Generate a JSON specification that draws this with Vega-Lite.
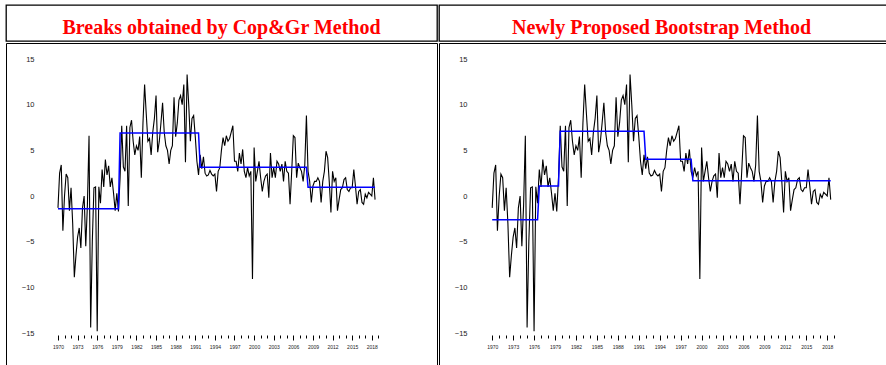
{
  "$schema": "https://vega.github.io/schema/vega-lite/v6.json",
  "padding": {"left": 5, "top": 4, "right": 0, "bottom": 0},
  "background": "white",
  "spacing": 0,
  "config": {"font": "Liberation Sans", "view": {"stroke": null}},
  "datasets": {
    "series": [
      {"t":1970,"v":-1.3},{"t":1970.25,"v":2.5},{"t":1970.5,"v":3.4},{"t":1970.75,"v":-3.8},
      {"t":1971,"v":0},{"t":1971.25,"v":2.4},{"t":1971.5,"v":2.0},{"t":1971.75,"v":-1.6},
      {"t":1972,"v":0.9},{"t":1972.25,"v":-3},{"t":1972.5,"v":-8.9},{"t":1972.75,"v":-6.5},
      {"t":1973,"v":-4.5},{"t":1973.25,"v":-3.5},{"t":1973.5,"v":-5.7},{"t":1973.75,"v":-1.3},
      {"t":1974,"v":0},{"t":1974.25,"v":-5.5},{"t":1974.5,"v":-1},{"t":1974.75,"v":6.6},
      {"t":1975,"v":-14.4},{"t":1975.25,"v":-5},{"t":1975.5,"v":0.9},{"t":1975.75,"v":1},
      {"t":1976,"v":-14.8},{"t":1976.25,"v":1},{"t":1976.5,"v":-0.8},{"t":1976.75,"v":2.9},
      {"t":1977,"v":1},{"t":1977.25,"v":4.0},{"t":1977.5,"v":2.3},{"t":1977.75,"v":3.3},
      {"t":1978,"v":1.0},{"t":1978.25,"v":2.0},{"t":1978.5,"v":0.3},{"t":1978.75,"v":-1.6},
      {"t":1979,"v":0.3},{"t":1979.25,"v":-1.7},{"t":1979.5,"v":2.0},{"t":1979.75,"v":7.7},
      {"t":1980,"v":3.2},{"t":1980.25,"v":2.7},{"t":1980.5,"v":7.7},{"t":1980.75,"v":-1.1},
      {"t":1981,"v":7.5},{"t":1981.25,"v":8.3},{"t":1981.5,"v":6},{"t":1981.75,"v":4.5},
      {"t":1982,"v":5.5},{"t":1982.25,"v":5},{"t":1982.5,"v":6.5},{"t":1982.75,"v":2.0},
      {"t":1983,"v":8},{"t":1983.25,"v":12.2},{"t":1983.5,"v":9},{"t":1983.75,"v":6},
      {"t":1984,"v":6.3},{"t":1984.25,"v":4.5},{"t":1984.5,"v":7},{"t":1984.75,"v":8.5},
      {"t":1985,"v":11.0},{"t":1985.25,"v":4.8},{"t":1985.5,"v":6},{"t":1985.75,"v":8},
      {"t":1986,"v":10.2},{"t":1986.25,"v":7},{"t":1986.5,"v":5.5},{"t":1986.75,"v":5.0},
      {"t":1987,"v":3.5},{"t":1987.25,"v":5},{"t":1987.5,"v":5.5},{"t":1987.75,"v":10.8},
      {"t":1988,"v":6.5},{"t":1988.25,"v":8},{"t":1988.5,"v":10.5},{"t":1988.75,"v":11},
      {"t":1989,"v":10},{"t":1989.25,"v":12.2},{"t":1989.5,"v":3.7},{"t":1989.75,"v":13.3},
      {"t":1990,"v":10},{"t":1990.25,"v":6},{"t":1990.5,"v":8.5},{"t":1990.75,"v":8.8},
      {"t":1991,"v":6.5},{"t":1991.25,"v":3.8},{"t":1991.5,"v":2.3},{"t":1991.75,"v":4.5},
      {"t":1992,"v":3},{"t":1992.25,"v":4.3},{"t":1992.5,"v":2.5},{"t":1992.75,"v":2.2},
      {"t":1993,"v":2.3},{"t":1993.25,"v":2.8},{"t":1993.5,"v":2.4},{"t":1993.75,"v":2.2},
      {"t":1994,"v":2.4},{"t":1994.25,"v":0.5},{"t":1994.5,"v":2.7},{"t":1994.75,"v":3.1},
      {"t":1995,"v":5},{"t":1995.25,"v":6.4},{"t":1995.5,"v":5.5},{"t":1995.75,"v":6.6},
      {"t":1996,"v":6},{"t":1996.25,"v":6.3},{"t":1996.5,"v":7},{"t":1996.75,"v":7.7},
      {"t":1997,"v":3.8},{"t":1997.25,"v":3.8},{"t":1997.5,"v":2.7},{"t":1997.75,"v":4.7},
      {"t":1998,"v":3.5},{"t":1998.25,"v":5.1},{"t":1998.5,"v":2.7},{"t":1998.75,"v":2.0},
      {"t":1999,"v":3.1},{"t":1999.25,"v":2.2},{"t":1999.5,"v":2.7},{"t":1999.75,"v":-9.1},
      {"t":2000,"v":5.3},{"t":2000.25,"v":1.6},{"t":2000.5,"v":2.7},{"t":2000.75,"v":3.8},
      {"t":2001,"v":2.0},{"t":2001.25,"v":0.5},{"t":2001.5,"v":1.6},{"t":2001.75,"v":2.2},
      {"t":2002,"v":2.4},{"t":2002.25,"v":-0.2},{"t":2002.5,"v":4.7},{"t":2002.75,"v":2.0},
      {"t":2003,"v":3.1},{"t":2003.25,"v":2.0},{"t":2003.5,"v":3.8},{"t":2003.75,"v":3.5},
      {"t":2004,"v":2.7},{"t":2004.25,"v":3.5},{"t":2004.5,"v":1.6},{"t":2004.75,"v":3.8},
      {"t":2005,"v":2.7},{"t":2005.25,"v":2.5},{"t":2005.5,"v":-0.9},{"t":2005.75,"v":2.7},
      {"t":2006,"v":6.6},{"t":2006.25,"v":6.4},{"t":2006.5,"v":2.0},{"t":2006.75,"v":3.6},
      {"t":2007,"v":3.1},{"t":2007.25,"v":2.7},{"t":2007.5,"v":1.6},{"t":2007.75,"v":3.4},
      {"t":2008,"v":8.8},{"t":2008.25,"v":2.7},{"t":2008.5,"v":1.6},{"t":2008.75,"v":-0.7},
      {"t":2009,"v":1.1},{"t":2009.25,"v":1.6},{"t":2009.5,"v":1.6},{"t":2009.75,"v":2.0},
      {"t":2010,"v":1.6},{"t":2010.25,"v":-0.7},{"t":2010.5,"v":1.6},{"t":2010.75,"v":2.7},
      {"t":2011,"v":4.9},{"t":2011.25,"v":4.2},{"t":2011.5,"v":1.5},{"t":2011.75,"v":-1.8},
      {"t":2012,"v":2.7},{"t":2012.25,"v":1.6},{"t":2012.5,"v":2.0},{"t":2012.75,"v":-1.6},
      {"t":2013,"v":-0.4},{"t":2013.25,"v":0.7},{"t":2013.5,"v":0.9},{"t":2013.75,"v":1.8},
      {"t":2014,"v":2.0},{"t":2014.25,"v":0.7},{"t":2014.5,"v":0.5},{"t":2014.75,"v":0.9},
      {"t":2015,"v":0.9},{"t":2015.25,"v":2.9},{"t":2015.5,"v":1.1},{"t":2015.75,"v":-0.9},
      {"t":2016,"v":0.5},{"t":2016.25,"v":0.7},{"t":2016.5,"v":-0.7},{"t":2016.75,"v":-0.9},
      {"t":2017,"v":0.2},{"t":2017.25,"v":-0.2},{"t":2017.5,"v":0.4},{"t":2017.75,"v":0.2},
      {"t":2018,"v":0},{"t":2018.25,"v":2.0},{"t":2018.5,"v":-0.4}
    ],
    "cop": [
      {"t":1970,"v":-1.39},{"t":1979.25,"v":-1.39},{"t":1979.5,"v":6.9},{"t":1991.5,"v":6.9},
      {"t":1991.75,"v":3.14},{"t":2008,"v":3.14},{"t":2008.25,"v":0.95},{"t":2018.5,"v":0.95}
    ],
    "boot": [
      {"t":1970,"v":-2.6},{"t":1976.5,"v":-2.6},{"t":1976.75,"v":1.1},{"t":1979.5,"v":1.1},
      {"t":1979.75,"v":7.09},{"t":1991.75,"v":7.09},{"t":1992,"v":4.02},{"t":1998.5,"v":4.02},
      {"t":1998.75,"v":1.68},{"t":2018.5,"v":1.68}
    ]
  },
  "vconcat": [
    {
      "spacing": 0,
      "hconcat": [
        {
          "width": 431, "height": 36,
          "view": {"stroke": "black", "strokeWidth": 1.3},
          "data": {"values": [{"title": "Breaks obtained by Cop&Gr Method"}]},
          "mark": {"type": "text", "font": "Liberation Serif", "fontWeight": "bold", "fontSize": 20, "color": "#ff0000", "baseline": "alphabetic", "dy": 10.5},
          "encoding": {"text": {"field": "title"}}
        },
        {
          "width": 447, "height": 36,
          "view": {"stroke": "black", "strokeWidth": 1.3, "strokeDash": [447, 36, 483, 0]},
          "data": {"values": [{"title": "Newly Proposed Bootstrap Method"}]},
          "mark": {"type": "text", "font": "Liberation Serif", "fontWeight": "bold", "fontSize": 20, "color": "#ff0000", "baseline": "alphabetic", "dy": 10.5, "dx": -1},
          "encoding": {"text": {"field": "title"}}
        }
      ]
    },
    {
      "spacing": 0,
      "hconcat": [
        {
          "width": 431, "height": 322,
          "view": {"stroke": "black", "strokeWidth": 1, "strokeDash": [753, 431, 322, 0]},
          "layer": [
            {
              "data": {"name": "series"},
              "mark": {"type": "line", "color": "black", "strokeWidth": 1.1},
              "encoding": {
                "x": {"field": "t", "type": "quantitative",
                  "scale": {"domain": [1967.25, 2021.55], "range": [34, 389], "nice": false, "zero": false},
                  "axis": {"title": null, "orient": "bottom", "offset": -30, "domain": false, "grid": false,
                    "values": [1970,1971,1972,1973,1974,1975,1976,1977,1978,1979,1980,1981,1982,1983,1984,1985,1986,1987,1988,1989,1990,1991,1992,1993,1994,1995,1996,1997,1998,1999,2000,2001,2002,2003,2004,2005,2006,2007,2008,2009,2010,2011,2012,2013,2014,2015,2016,2017,2018,2019],
                    "tickCount": 200,
                    "format": "d",
                    "labelExpr": "(datum.value - 1970) % 3 == 0 ? datum.label : ''",
                    "tickSize": {"condition": {"test": "(datum.value - 1970) % 3 == 0", "value": 5}, "value": 3},
                    "tickColor": "black", "tickWidth": 1,
                    "labelFontSize": 5, "labelColor": "#222", "labelPadding": 4, "labelOverlap": false, "labelFlush": false}},
                "y": {"field": "v", "type": "quantitative",
                  "scale": {"domain": [-15, 15], "range": [290, 16], "nice": false, "zero": false},
                  "axis": {"title": null, "orient": "left", "offset": -34, "domain": false, "ticks": false, "grid": false,
                    "values": [-15, -10, -5, 0, 5, 10, 15], "labelFontSize": 7.5, "labelColor": "#222", "labelPadding": 6}}
              }
            },
            {
              "data": {"name": "cop"},
              "mark": {"type": "line", "color": "#0000ff", "strokeWidth": 1.5},
              "encoding": {"x": {"field": "t", "type": "quantitative"}, "y": {"field": "v", "type": "quantitative"}}
            },
            {
              "mark": {"type": "rule", "color": "black", "strokeWidth": 1},
              "encoding": {"x": {"datum": 1967.25}, "x2": {"datum": 2021.55}, "y": {"datum": 0}}
            },
            {
              "mark": {"type": "rect", "fill": null, "stroke": "black", "strokeWidth": 1},
              "encoding": {"x": {"datum": 1967.25}, "x2": {"datum": 2021.55}, "y": {"datum": -15}, "y2": {"datum": 15}}
            }
          ]
        },
        {
          "width": 447, "height": 322,
          "view": {"stroke": "black", "strokeWidth": 1, "strokeDash": [447, 769, 322, 0]},
          "layer": [
            {
              "data": {"name": "series"},
              "mark": {"type": "line", "color": "black", "strokeWidth": 1.1},
              "encoding": {
                "x": {"field": "t", "type": "quantitative",
                  "scale": {"domain": [1967.25, 2021.55], "range": [34, 413], "nice": false, "zero": false},
                  "axis": {"title": null, "orient": "bottom", "offset": -30, "domain": false, "grid": false,
                    "values": [1970,1971,1972,1973,1974,1975,1976,1977,1978,1979,1980,1981,1982,1983,1984,1985,1986,1987,1988,1989,1990,1991,1992,1993,1994,1995,1996,1997,1998,1999,2000,2001,2002,2003,2004,2005,2006,2007,2008,2009,2010,2011,2012,2013,2014,2015,2016,2017,2018,2019],
                    "tickCount": 200,
                    "format": "d",
                    "labelExpr": "(datum.value - 1970) % 3 == 0 ? datum.label : ''",
                    "tickSize": {"condition": {"test": "(datum.value - 1970) % 3 == 0", "value": 5}, "value": 3},
                    "tickColor": "black", "tickWidth": 1,
                    "labelFontSize": 5, "labelColor": "#222", "labelPadding": 4, "labelOverlap": false, "labelFlush": false}},
                "y": {"field": "v", "type": "quantitative",
                  "scale": {"domain": [-15, 15], "range": [290, 16], "nice": false, "zero": false},
                  "axis": {"title": null, "orient": "left", "offset": -34, "domain": false, "ticks": false, "grid": false,
                    "values": [-15, -10, -5, 0, 5, 10, 15], "labelFontSize": 7.5, "labelColor": "#222", "labelPadding": 6}}
              }
            },
            {
              "data": {"name": "boot"},
              "mark": {"type": "line", "color": "#0000ff", "strokeWidth": 1.5},
              "encoding": {"x": {"field": "t", "type": "quantitative"}, "y": {"field": "v", "type": "quantitative"}}
            },
            {
              "mark": {"type": "rule", "color": "black", "strokeWidth": 1},
              "encoding": {"x": {"datum": 1967.25}, "x2": {"datum": 2021.55}, "y": {"datum": 0}}
            },
            {
              "mark": {"type": "rect", "fill": null, "stroke": "black", "strokeWidth": 1},
              "encoding": {"x": {"datum": 1967.25}, "x2": {"datum": 2021.55}, "y": {"datum": -15}, "y2": {"datum": 15}}
            }
          ]
        }
      ]
    }
  ]
}
